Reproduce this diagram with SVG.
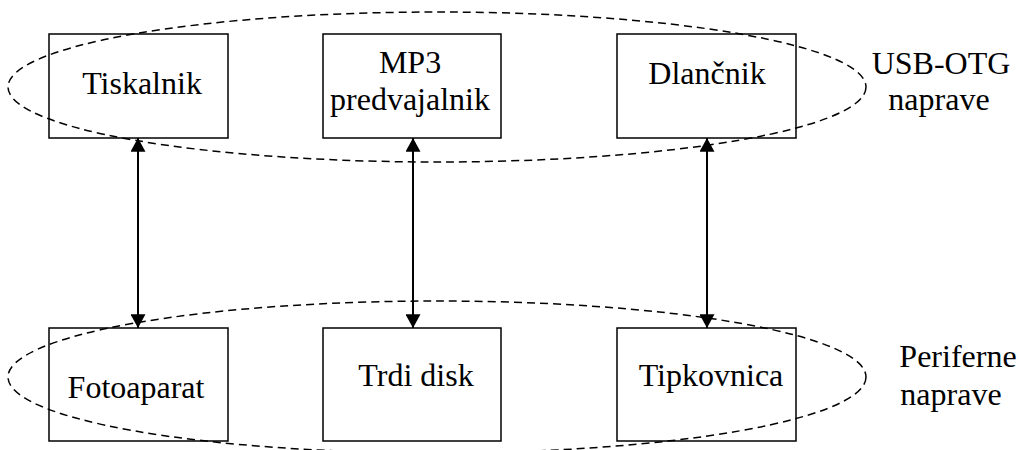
<svg xmlns="http://www.w3.org/2000/svg" width="1020" height="450" viewBox="0 0 1020 450">
  <defs>
    <marker id="arrow" viewBox="0 0 10 11" refX="10" refY="5.5" markerWidth="16" markerHeight="15" markerUnits="userSpaceOnUse" orient="auto-start-reverse">
      <path d="M0,0 L10,5.5 L0,11 Z" fill="#000"/>
    </marker>
    <style>
      .box { fill: none; stroke: #000; stroke-width: 1.5; }
      .group { fill: none; stroke: #000; stroke-width: 1.5; stroke-dasharray: 8 5; }
      .link { stroke: #000; stroke-width: 2; fill: none; marker-start: url(#arrow); marker-end: url(#arrow); }
      .lbl { font-family: 'Liberation Serif', 'DejaVu Serif', serif; font-size: 32px; fill: #000; text-anchor: middle; }
    </style>
  </defs>
  <rect width="1020" height="450" fill="#fff"/>

  <!-- USB-OTG devices row -->
  <g id="tiskalnik">
    <rect class="box" x="49" y="34" width="179" height="104"/>
    <text class="lbl" font-family="Liberation Serif, serif" x="142" y="94">Tiskalnik</text>
  </g>
  <g id="mp3">
    <rect class="box" x="323" y="34" width="178" height="104"/>
    <text class="lbl" font-family="Liberation Serif, serif" x="410" y="73">MP3</text>
    <text class="lbl" font-family="Liberation Serif, serif" x="410" y="110">predvajalnik</text>
  </g>
  <g id="dlancnik">
    <rect class="box" x="617" y="34" width="179" height="104"/>
    <text class="lbl" font-family="Liberation Serif, serif" x="707" y="84">Dlančnik</text>
  </g>

  <!-- Peripheral devices row -->
  <g id="fotoaparat">
    <rect class="box" x="49" y="328" width="179" height="113"/>
    <text class="lbl" font-family="Liberation Serif, serif" x="136" y="398">Fotoaparat</text>
  </g>
  <g id="trdi-disk">
    <rect class="box" x="323" y="328" width="178" height="113"/>
    <text class="lbl" font-family="Liberation Serif, serif" x="416" y="386">Trdi disk</text>
  </g>
  <g id="tipkovnica">
    <rect class="box" x="617" y="328" width="179" height="113"/>
    <text class="lbl" font-family="Liberation Serif, serif" x="711" y="386">Tipkovnica</text>
  </g>

  <!-- Dashed groupings with their captions -->
  <g id="usb-otg-group">
    <ellipse class="group" cx="437" cy="87" rx="429" ry="75"/>
    <text class="lbl" font-family="Liberation Serif, serif" x="941" y="74">USB-OTG</text>
    <text class="lbl" font-family="Liberation Serif, serif" x="939" y="110">naprave</text>
  </g>
  <g id="periferne-group">
    <ellipse class="group" cx="437" cy="377" rx="429" ry="76"/>
    <text class="lbl" font-family="Liberation Serif, serif" x="958" y="367">Periferne</text>
    <text class="lbl" font-family="Liberation Serif, serif" x="951" y="405">naprave</text>
  </g>

  <!-- Connectors -->
  <g id="connectors">
    <line class="link" x1="138" y1="138" x2="138" y2="328"/>
    <line class="link" x1="413" y1="138" x2="413" y2="328"/>
    <line class="link" x1="707" y1="138" x2="707" y2="328"/>
  </g>
</svg>
